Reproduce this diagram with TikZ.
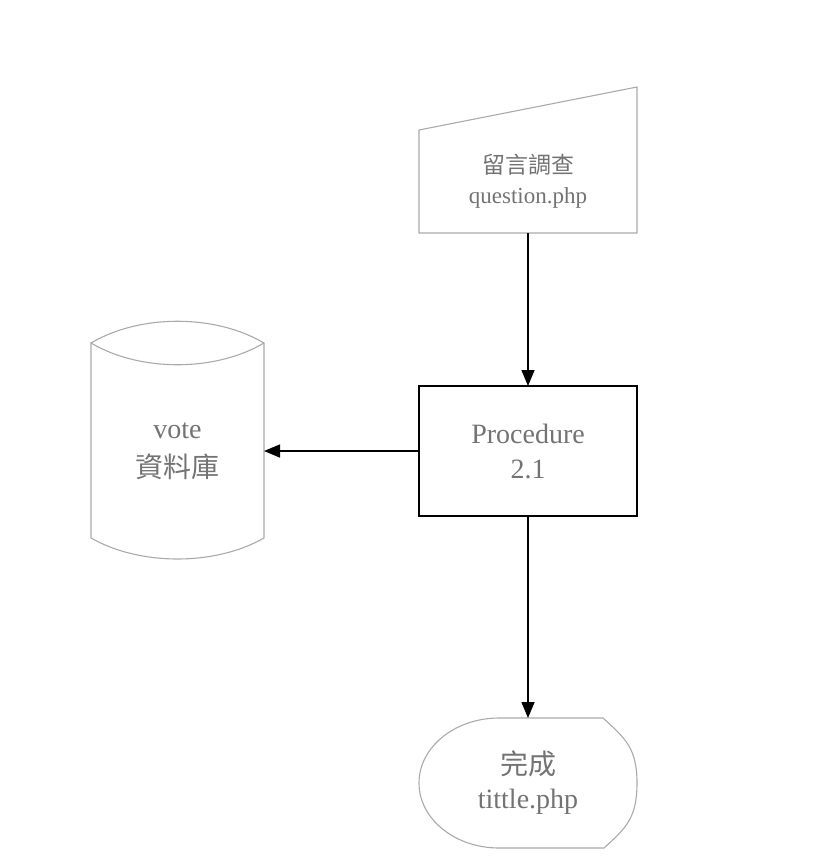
\documentclass[tikz,border=0pt]{standalone}
\usepackage{fontspec}
\setmainfont{Liberation Serif}
\newfontfamily\cjk{Noto Sans CJK TC}
\usetikzlibrary{arrows.meta,positioning}
\definecolor{txtgray}{RGB}{115,115,115}
\definecolor{linegray}{RGB}{170,170,170}
\begin{document}
\begin{tikzpicture}[x=1pt,y=-1pt]
  \tikzstyle{shapebox}=[rectangle, inner sep=0pt, outer sep=0pt, align=center, text=txtgray]
  \tikzstyle{outline}=[draw=linegray, line width=1.1pt]
  \tikzstyle{procbox}=[shapebox, draw=black, line width=1.6pt, minimum width=218pt, minimum height=130pt]
  \tikzstyle{line} = [draw, line width=1.5pt, -{Triangle[length=16pt,width=13pt]}]

  \useasboundingbox (0,0) rectangle (818,863);

  % nodes
  \node [shapebox, minimum width=218pt, minimum height=103pt,
    font=\fontsize{23}{30}\selectfont] (question) at (528,181.5) {
    {\cjk 留言調查}\\question.php
  };
  \node [procbox, font=\fontsize{28}{35}\selectfont] (procedure) at (528,451) {
    Procedure\\2.1
  };
  \node [shapebox, minimum width=173pt, minimum height=216pt,
    font=\fontsize{28}{39}\selectfont] (vote) at (177.5,451) {
    vote\\{\cjk 資料庫}
  };
  \node [shapebox, minimum width=218pt, minimum height=130pt,
    font=\fontsize{28}{34}\selectfont] (finish) at (528,783) {
    {\cjk 完成}\\tittle.php
  };

  % outlines
  \draw [outline] (question.north west) -- (question.south west) -- (question.south east)
    -- ([yshift=43pt]question.north east) -- cycle;
  \draw [outline] (vote.north west) .. controls +(49,-29) and +(-49,-29) .. (vote.north east)
    .. controls +(-49,29) and +(49,29) .. (vote.north west)
    -- ([yshift=21pt]vote.south west) .. controls +(49,28) and +(-49,28) .. ([yshift=21pt]vote.south east)
    -- (vote.north east);
  \draw [outline] ([xshift=-34pt]finish.north east) -- ([xshift=80pt]finish.north west)
    .. controls +(-44,0) and +(0,-36) .. (finish.west)
    .. controls +(0,36) and +(-44,0) .. ([xshift=80pt]finish.south west)
    -- ([xshift=-33pt]finish.south east)
    .. controls +(22,-20) and +(0,35) .. (finish.east)
    .. controls +(0,-35) and +(22,20) .. ([xshift=-34pt]finish.north east);

  % connectors
  \draw [line] (question) to (procedure);
  \draw [line] (procedure) to (vote);
  \draw [line] (procedure) to (finish);
\end{tikzpicture}
\end{document}
